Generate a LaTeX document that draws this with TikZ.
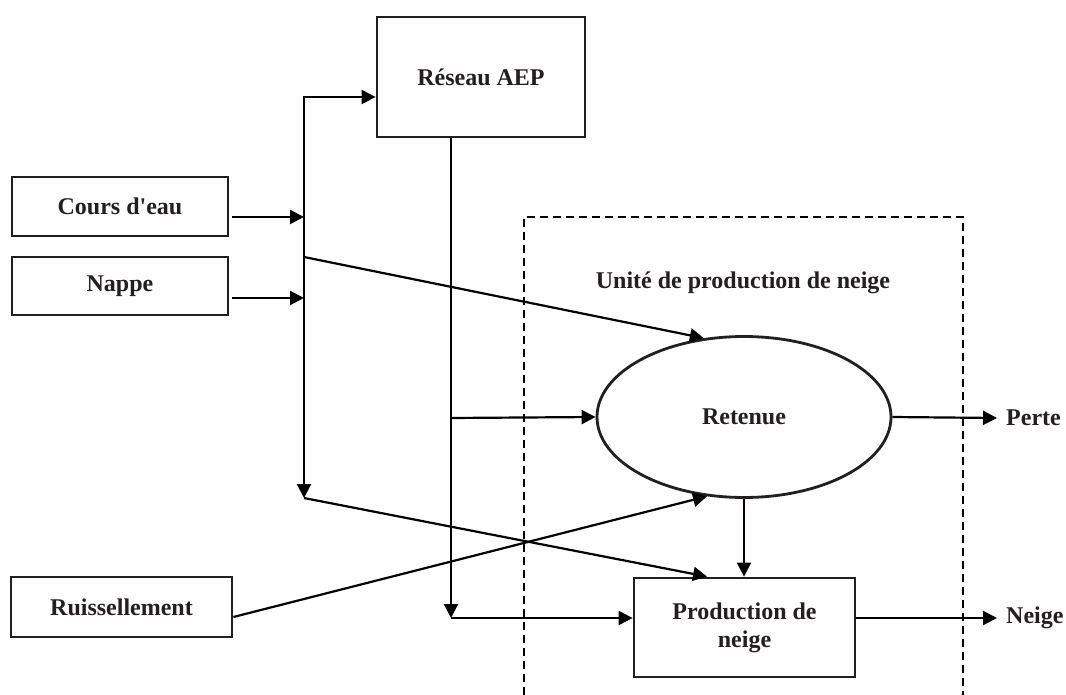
\documentclass[tikz,border=0pt]{standalone}
\usepackage{fontspec}
\setmainfont{Liberation Serif}[Ligatures=TeXOff]
\usetikzlibrary{arrows.meta,shapes.geometric}
\definecolor{ink}{RGB}{35,31,32}
\begin{document}
\begin{tikzpicture}[x=1pt,y=-1pt,
  box/.style={draw=ink,line width=2.8pt,rectangle,inner sep=0pt,font=\fontsize{24}{28}\selectfont\bfseries,text=ink,align=center},
  oval/.style={draw=ink,line width=2.8pt,ellipse,inner sep=0pt,font=\fontsize{24}{28}\selectfont\bfseries,text=ink},
  lbl/.style={inner sep=0pt,font=\fontsize{24}{28}\selectfont\bfseries,text=ink},
  conn/.style={draw=black,line width=2.2pt},
  arr/.style={conn,-{Triangle[length=14pt,width=14pt]}}]
\useasboundingbox[fill=white] (0,0) rectangle (1066,695);
% nodes
\node[box,minimum width=208,minimum height=120] (aep) at (481,77) {Réseau AEP};
\node[box,minimum width=216,minimum height=59] (cours) at (120,206.5) {Cours d'eau};
\node[box,minimum width=216,minimum height=58] (nappe) at (120,286) {Nappe};
\node[box,minimum width=221,minimum height=60] (ruis) at (121.5,607) {Ruissellement};
\node[oval,minimum width=294,minimum height=161] (ret) at (744,417) {Retenue};
\node[box,minimum width=221,minimum height=99] (prod) at (744.5,627.5) {Production de\\neige};
\node[lbl,anchor=west] (perte) at (1006,418) {Perte};
\node[lbl,anchor=west] (neige) at (1006,618) {Neige};
\node[lbl] (unite) at (743,283) {Unité de production de neige};
% dashed unit frame
\draw[black,line width=2pt,dash pattern=on 8pt off 5pt] (524,695) -- (524,217) -- (963,217) -- (963,695);
% junction coordinates
\coordinate (jtop) at (304,97);
\coordinate (jc) at (304,217);
\coordinate (jr) at (304,257);
\coordinate (jn) at (304,298);
\coordinate (jbot) at (304,498);
\coordinate (a1) at (451,418);
\coordinate (a2) at (451,618);
% left collector
\draw[arr] (jc) -- (jtop) -- (aep.west |- jtop);
\draw[arr] (jtop) -- (jbot);
\draw[arr] ([xshift=3pt]cours.east |- jc) -- (jc);
\draw[arr] ([xshift=3pt]nappe.east |- jn) -- (jn);
\draw[arr] (jr) -- (ret.117);
\draw[arr] (jbot) -- ([xshift=-37.5pt]prod.north);
\draw[arr] ([yshift=-10pt]ruis.east) -- (ret.245);
% AEP branch
\draw[arr] (aep.south -| a1) -- (a2);
\draw[arr] (a1) -- (ret.west);
\draw[arr] (a2) -- (prod.west |- a2);
% outputs
\draw[arr] (ret.south) -- (ret.south |- prod.north);
\draw[arr] (ret.east) -- ([xshift=-9pt]perte.west);
\draw[arr] (prod.east |- a2) -- ([xshift=-9pt]neige.west);
\end{tikzpicture}
\end{document}
